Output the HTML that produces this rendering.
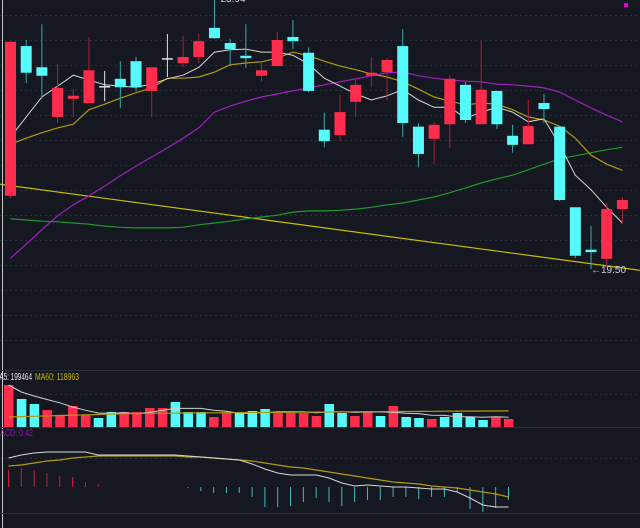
<!DOCTYPE html>
<html><head><meta charset="utf-8"><style>
html,body{margin:0;padding:0;background:#151821;width:640px;height:528px;overflow:hidden}
svg{display:block}
text{font-family:"Liberation Sans",sans-serif}
</style></head><body>
<svg id="chart" width="640" height="528" viewBox="0 0 640 528" xmlns="http://www.w3.org/2000/svg">
<rect x="0" y="0" width="640" height="528" fill="#151821"/>
<g id="grid"></g>
<g id="price"></g>
<g id="vol"></g>
<g id="macd"></g>
<line x1="2.5" y1="0" x2="2.5" y2="528" stroke="#c8c8c8" stroke-width="1"/>
<line x1="0" y1="370.5" x2="640" y2="370.5" stroke="#2a2e39"/>
<line x1="0" y1="427.5" x2="640" y2="427.5" stroke="#2a2e39"/>
<line x1="0" y1="513.5" x2="640" y2="513.5" stroke="#2a2e39"/>
<rect x="624" y="3" width="4" height="4" fill="#e000e0"/>
<text x="-6" y="380" font-size="10" textLength="38" lengthAdjust="spacingAndGlyphs" fill="#e6e6e6">MA5: 199464</text>
<text x="35" y="380" font-size="10" textLength="44" lengthAdjust="spacingAndGlyphs" fill="#c8b400">MA60: 118963</text>
<text x="-6" y="436" font-size="10" textLength="39" lengthAdjust="spacingAndGlyphs" fill="#b000c8">MACD: 0.42</text>
<text x="233" y="2" font-size="10" fill="#d0d0d0" text-anchor="middle">23.94</text>
<text x="591" y="273" font-size="10" fill="#d0d0d0">←19.50</text>
</svg>
<script>
const opens =  [20.71,23.18,22.83,22.01,22.31,22.24,22.52,22.64,22.93,22.44,22.98,22.90,23.00,23.48,23.23,23.02,22.69,22.85,23.33,23.07,21.80,21.71,22.26,22.69,22.75,23.18,21.85,21.65,21.89,22.54,21.89,22.44,21.70,21.56,22.24,21.85,20.52,19.82,19.67,20.49];
const closes = [23.25,22.74,22.69,22.49,22.36,22.78,22.52,22.50,22.50,22.83,22.98,23.00,23.26,23.31,23.13,22.98,22.78,23.28,23.26,22.44,21.61,22.09,22.54,22.74,22.95,21.91,21.40,21.88,22.64,21.96,22.46,21.89,21.55,21.86,22.14,20.64,19.72,19.78,20.49,20.64];
const highs =  [23.25,23.28,23.54,22.88,22.47,23.33,22.77,22.93,23.00,22.83,23.38,23.35,23.38,23.94,23.30,23.54,22.92,23.41,23.61,23.16,22.08,22.37,22.65,23.00,22.98,23.46,21.91,21.93,22.70,22.59,23.26,22.44,21.88,22.29,22.39,21.85,20.52,20.21,20.59,20.69];
const lows =   [20.67,22.57,22.31,21.91,22.01,22.24,22.27,22.16,22.44,22.01,22.67,22.83,22.90,23.30,22.85,22.82,22.60,22.85,23.13,22.42,21.51,21.61,22.01,22.50,22.29,21.68,21.18,21.23,21.50,21.91,21.89,21.81,21.42,21.56,21.91,20.62,19.68,19.50,19.52,20.24];
const ma5 =  [21.68,22.01,22.34,22.52,22.70,22.62,22.54,22.52,22.50,22.55,22.64,22.70,22.83,23.08,23.12,23.13,23.08,23.08,23.03,22.88,22.65,22.52,22.39,22.29,22.36,22.46,22.29,22.17,22.17,21.99,22.09,22.17,22.09,21.93,21.98,21.55,21.05,20.81,20.52,20.26];
const ma10 = [21.56,21.66,21.75,21.83,21.89,22.13,22.22,22.32,22.41,22.49,22.65,22.65,22.67,22.75,22.87,22.90,22.92,22.98,23.08,23.02,22.93,22.85,22.79,22.72,22.67,22.59,22.47,22.34,22.27,22.21,22.24,22.22,22.13,22.01,21.96,21.86,21.66,21.38,21.23,21.13];
const ma20 = [19.68,19.91,20.15,20.38,20.56,20.71,20.87,21.04,21.20,21.35,21.50,21.66,21.83,22.09,22.19,22.27,22.34,22.39,22.44,22.49,22.54,22.59,22.64,22.69,22.74,22.75,22.69,22.65,22.62,22.60,22.59,22.55,22.54,22.52,22.49,22.42,22.29,22.16,22.04,21.93];
const ma60 = [20.33,20.31,20.29,20.28,20.26,20.24,20.21,20.19,20.18,20.18,20.18,20.19,20.23,20.26,20.29,20.33,20.36,20.39,20.44,20.46,20.46,20.47,20.49,20.52,20.56,20.59,20.64,20.69,20.76,20.84,20.92,20.99,21.05,21.14,21.23,21.32,21.37,21.42,21.47,21.51];
const trendLine = [20.90,19.48];
const volumes = [924,616,506,374,242,462,264,198,330,330,330,418,418,550,330,330,220,308,308,352,396,308,308,308,242,506,308,242,352,242,462,220,198,176,220,308,220,154,220,176];
const volMa60 = [220,228,236,244,252,260,268,276,284,290,296,300,304,306,308,310,312,314,316,318,320,322,324,326,328,330,332,334,336,338,340,342,344,346,348,350,350,352,352,354];
const dif = [1.45,1.60,1.70,1.75,1.75,1.75,1.75,1.60,1.60,1.60,1.60,1.60,1.60,1.60,1.55,1.50,1.45,1.40,1.35,1.15,0.90,0.70,0.60,0.60,0.60,0.45,0.20,0.05,0.10,0.05,0,0,-0.05,-0.10,-0.10,-0.25,-0.55,-0.90,-1.00,-1.00];
const dea = [1.05,1.10,1.20,1.30,1.35,1.45,1.50,1.55,1.55,1.55,1.55,1.55,1.55,1.55,1.50,1.50,1.45,1.40,1.35,1.30,1.20,1.10,1.00,0.95,0.85,0.75,0.65,0.55,0.45,0.35,0.25,0.20,0.15,0.05,0,-0.05,-0.15,-0.25,-0.35,-0.50];
const hist = [0.85,0.95,0.85,0.70,0.55,0.50,0.25,0.15,0,0,0,0,0,0,-0.05,-0.20,-0.30,-0.30,-0.30,-0.50,-1.00,-1.00,-0.95,-0.75,-0.55,-0.75,-0.95,-0.75,-0.65,-0.65,-0.50,-0.50,-0.60,-0.50,-0.50,-0.25,-1.10,-1.25,-1.05,-0.65];

const NS='http://www.w3.org/2000/svg';
const RED='#ff2d4b', CYAN='#55fbfb';
function mk(tag,attrs,parent){const e=document.createElementNS(NS,tag);for(const k in attrs)e.setAttribute(k,attrs[k]);parent.appendChild(e);return e;}
const px=i=>10.5+i*15.69;
const py=p=>(23.94-p)/0.0165;
const vx=i=>8.5+i*12.82;
const vy=v=>427-v/22;
const my=v=>487-v*20;

const grid=document.getElementById('grid');
[15,40,65,90,115,140,165,190,215,240,265,290,315,340,394,458].forEach(y=>{
  const l=mk('line',{x1:0,y1:y+0.5,x2:640,y2:y+0.5,stroke:'#2a2e3a','stroke-dasharray':'2,3'},grid);
  
  
});

const price=document.getElementById('price');
function poly(vals,xf,yf,color,parent,name,w){
  const pts=vals.map((v,i)=>xf(i).toFixed(1)+','+yf(v).toFixed(1)).join(' ');
  const e=mk('polyline',{points:pts,fill:'none',stroke:color,'stroke-width':w||1},parent);
  
  
  return e;
}
const tl=mk('line',{x1:0,y1:py(trendLine[0]),x2:640,y2:py(trendLine[1]),stroke:'#c8c000','stroke-width':1.2},price);


poly(ma60,px,py,'#1e9a2a',price,'ma60-line',1.2);
poly(ma20,px,py,'#a020c0',price,'ma20-line',1.2);
poly(ma10,px,py,'#b09a10',price,'ma10-line',1.2);
poly(ma5,px,py,'#d8d8d8',price,'ma5-line',1);
for(let i=0;i<opens.length;i++){
  const o=opens[i],c=closes[i];
  const col=Math.abs(o-c)<0.005?'#e0e0e0':(c>o?RED:CYAN);
  const wick=col==='#e0e0e0'?'#e0e0e0':(c>o?'#b0203a':'#3aa8a8');
  const g=mk('g',{},price);
  
  
  mk('line',{x1:px(i),y1:py(highs[i]),x2:px(i),y2:py(lows[i]),stroke:wick,'stroke-width':1},g);
  const top=py(Math.max(o,c)),bot=py(Math.min(o,c));
  mk('rect',{x:px(i)-5.5,y:top,width:11,height:Math.max(bot-top,1.5),fill:col},g);
}

const vol=document.getElementById('vol');
for(let i=0;i<volumes.length;i++){
  const up=closes[i]>=opens[i];
  const r=mk('rect',{x:vx(i)-4.5,y:vy(volumes[i]),width:9.5,height:427-vy(volumes[i]),fill:up?RED:CYAN},vol);
  
  
}
const vma5=volumes.map((v,i)=>{const s=volumes.slice(Math.max(0,i-4),i+1);return s.reduce((a,b)=>a+b,0)/s.length;});
poly(vma5,vx,vy,'#d0d0d0',vol,'volume-ma5-line',1);
poly(volMa60,vx,vy,'#b09a10',vol,'volume-ma60-line',1.2);

const macd=document.getElementById('macd');
for(let i=0;i<hist.length;i++){
  if(hist[i]===0)continue;
  const l=mk('line',{x1:vx(i),y1:my(0),x2:vx(i),y2:my(hist[i]),stroke:hist[i]>0?'#c02040':'#3cc0c0','stroke-width':1},macd);
  
  
}
poly(dea,vx,my,'#b09a10',macd,'dea-line',1.2);
poly(dif,vx,my,'#d8d8d8',macd,'dif-line',1);
</script>
</body></html>
